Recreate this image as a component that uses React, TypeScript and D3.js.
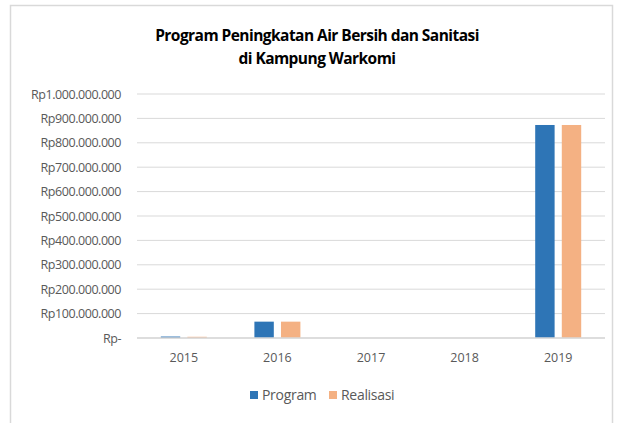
import React from 'react';
import * as d3 from 'd3';

const years = ['2015', '2016', '2017', '2018', '2019'];
const programValues = [6000000, 67000000, 0, 0, 873000000];
const realisasiValues = [5000000, 67000000, 0, 0, 873000000];
const yTicks = [0, 100000000, 200000000, 300000000, 400000000, 500000000, 600000000, 700000000, 800000000, 900000000, 1000000000];
const seriesNames = ['Program', 'Realisasi'];
const colors = ['#2E75B6', '#F4B183'];

const W = 624;
const H = 423;
const font = "'Open Sans', 'Noto Sans', sans-serif";

// rupiah format with dots as thousands separator, zero shown as "Rp-"
const fmt = (v: number) => v === 0 ? 'Rp-' : 'Rp' + d3.format(',')(v).replace(/,/g, '.');

export default function App() {
  const x = d3.scaleBand().domain(years).range([137, 605]);
  const x1 = d3.scaleBand().domain(seriesNames).range([x.bandwidth() / 2 - 23, x.bandwidth() / 2 + 23]).paddingInner(0.27);
  const y = d3.scaleLinear().domain([0, 1000000000]).range([338, 94]);
  const series = [programValues, realisasiValues];

  return (
    <svg width={W} height={H} style={{ position: 'absolute', left: 0, top: 0, background: '#fff' }}>
      <rect x={10.5} y={5.5} width={602} height={430} fill="#fff" stroke="#d9d9d9" strokeWidth={1.5} />
      <text x={317} y={41} textAnchor="middle" fontFamily={font} fontWeight="bold" fontSize={15.5} fill="#000" letterSpacing={-0.55}>
        <tspan x={317}>Program Peningkatan Air Bersih dan Sanitasi</tspan>
        <tspan x={317} dy={23}>di Kampung Warkomi</tspan>
      </text>
      {yTicks.map(t => (
        <g key={t}>
          <line x1={137} x2={605} y1={y(t)} y2={y(t)} stroke="#d9d9d9" strokeWidth={1} />
          <text x={121} y={y(t) + 4.5} textAnchor="end" fontFamily={font} fontSize={12.5} fill="#595959" letterSpacing={-0.45}>{fmt(t)}</text>
        </g>
      ))}
      {years.map((yr, i) => (
        <g key={yr} transform={`translate(${x(yr)},0)`}>
          {series.map((vals, s) => (
            <rect key={s} x={x1(seriesNames[s])} width={x1.bandwidth()} y={y(vals[i])} height={y(0) - y(vals[i])} fill={colors[s]} />
          ))}
          <text x={x.bandwidth() / 2} y={362} textAnchor="middle" fontFamily={font} fontSize={12.5} fill="#595959">{yr}</text>
        </g>
      ))}
      <line x1={137} x2={605} y1={y(0)} y2={y(0)} stroke="#d9d9d9" strokeWidth={1.5} />
      <g>
        <rect x={250} y={391} width={8} height={8} fill={colors[0]} />
        <text x={262} y={400} fontFamily={font} fontSize={14} fill="#595959" letterSpacing={-0.3}>Program</text>
        <rect x={329} y={391} width={8} height={8} fill={colors[1]} />
        <text x={341} y={400} fontFamily={font} fontSize={14} fill="#595959" letterSpacing={-0.3}>Realisasi</text>
      </g>
    </svg>
  );
}
